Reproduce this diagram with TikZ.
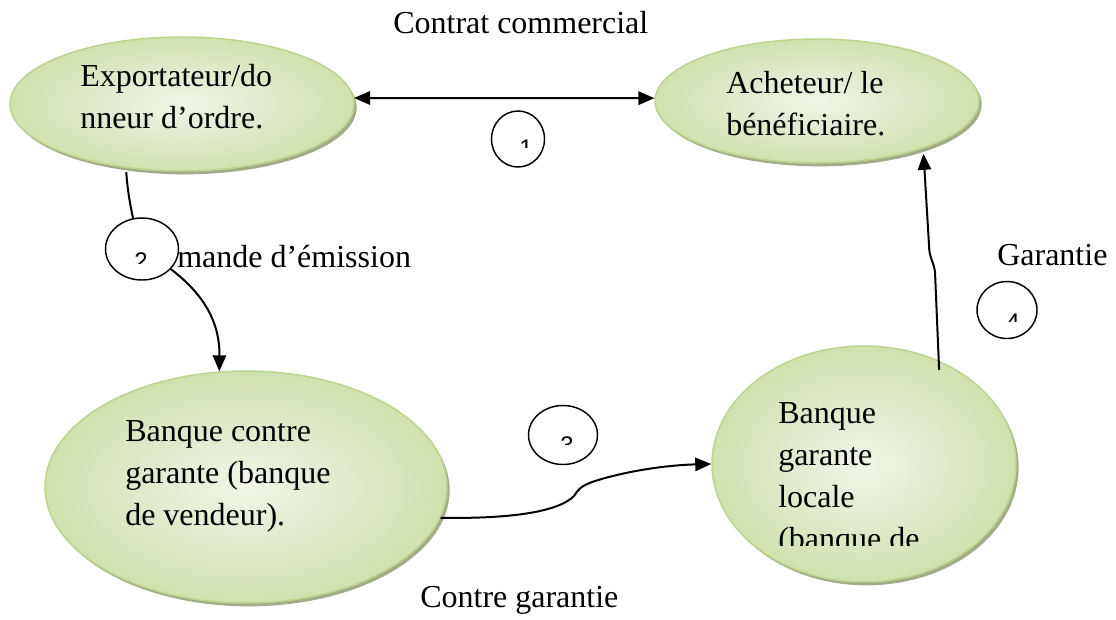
\documentclass[tikz,border=0pt]{standalone}
\usepackage{fontspec}
\setmainfont{Liberation Serif}
\newfontfamily\digitfont{Liberation Sans}
\usetikzlibrary{arrows.meta,shadows,shapes.geometric}

\definecolor{bubbleborder}{RGB}{187,212,142}
\definecolor{bubblein}{RGB}{240,245,232}
\definecolor{bubbleout}{RGB}{208,225,174}
\definecolor{bubbleshadow}{RGB}{163,171,136}

\tikzset{
  bubble/.style={ellipse, draw=bubbleborder, line width=1.1pt,
    inner color=bubblein, outer color=bubbleout, inner sep=0pt,
    drop shadow={shadow xshift=2pt, shadow yshift=-2.5pt,
      fill=bubbleshadow, opacity=1}},
  numring/.style={ellipse, draw=black, line width=1.1pt, fill=white, inner sep=0pt},
  txt/.style={inner sep=0pt, font=\fontsize{24}{31.5}\selectfont},
  blocktxt/.style={txt, align=left, anchor=north west},
  digit/.style={inner sep=0pt, anchor=base, font=\digitfont\fontsize{18}{18}\selectfont},
  link/.style={line width=1.5pt, -{Triangle[length=12pt,width=10pt]}},
  duallink/.style={line width=1.5pt, {Triangle[length=12pt,width=10pt]}-{Triangle[length=12pt,width=10pt]}}
}

\begin{document}
\begin{tikzpicture}[x=0.75pt, y=-0.75pt]
\useasboundingbox (0,0) rectangle (1116,619);

% parties
\node[bubble, minimum width=258pt, minimum height=100.5pt] (e1) at (182,104) {};
\node[bubble, minimum width=243pt, minimum height=93pt]    (e2) at (817,101) {};
\node[bubble, minimum width=301.5pt, minimum height=174pt] (e3) at (246,487) {};
\node[bubble, minimum width=228pt, minimum height=177pt]   (e4) at (864,464) {};

\node[blocktxt] (t1) at (80,64)  {Exportateur/do\\nneur d’ordre.};
\node[blocktxt] (t2) at (726,71) {Acheteur/ le\\bénéficiaire.};
\node[blocktxt] (t3) at (125,420) {Banque contre\\garante (banque\\de vendeur).};
\begin{scope}
  \clip (700,340) rectangle (1020,545);
  \node[blocktxt] (t4) at (778,402) {Banque\\garante\\locale\\(banque de};
\end{scope}

% flows
\draw[duallink] (e1.2) -- (e2.179);
\draw[link] ([yshift=-3pt]e1.229) .. controls (128,200) and (135,230) .. (142,250)
  .. controls (190,278) and (220,310) .. (e3.103);
\draw[link] (e3.351) .. controls (520,519) and (560,510) .. (574,496)
  .. controls (578,490) and (580,486) .. (595,481)
  .. controls (630,470) and (670,465) .. (e4.west);
\draw[link] ([yshift=-7pt]e4.54) -- (935,272) .. controls (934,262) and (929,258) .. (929,245)
  -- ([yshift=-4pt]e2.-24);

% step markers
\node[numring, minimum width=39.75pt, minimum height=42pt]   (c1) at (518,139) {};
\node[numring, minimum width=54.75pt, minimum height=46.5pt] (c2) at (142,249) {};
\node[numring, minimum width=51.75pt, minimum height=44.25pt] (c3) at (563,435) {};
\node[numring, minimum width=45pt, minimum height=42.75pt]   (c4) at (1007,310) {};

\begin{scope}
  \clip (505,130) rectangle (550,147);
  \node[digit] (d1) at (526,156) {1};
\end{scope}
\begin{scope}
  \clip (120,243) rectangle (165,263);
  \node[digit] (d2) at (141,269) {2};
\end{scope}
\begin{scope}
  \clip (545,427) rectangle (590,444);
  \node[digit] (d3) at (567,453) {3};
\end{scope}
\begin{scope}
  \clip (990,304) rectangle (1035,321);
  \node[digit] (d4) at (1013,330) {4};
\end{scope}

% flow labels
\node[txt, anchor=base west] (l1) at (393,33)  {Contrat commercial};
\node[txt, anchor=base west] (l2) at (177,267) {mande d’émission};
\node[txt, anchor=base west] (l3) at (997,265) {Garantie};
\node[txt, anchor=base west] (l4) at (420,607) {Contre garantie};
\end{tikzpicture}
\end{document}
